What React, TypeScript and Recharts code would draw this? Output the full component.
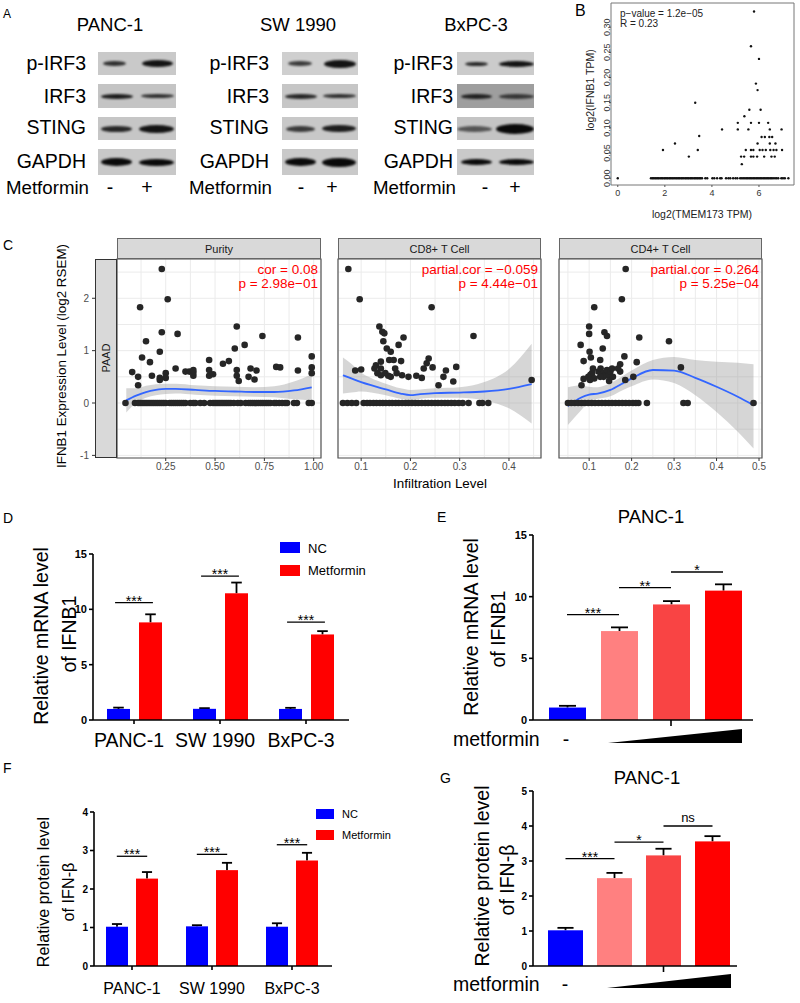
import React from 'react'
import {
  ComposedChart, ScatterChart, Scatter, Bar, Cell, Line, Area, XAxis, YAxis,
  CartesianGrid, ReferenceArea, ReferenceLine,
} from 'recharts'

// ---------- A: western blots ----------
const blotLines = ['PANC-1', 'SW 1990', 'BxPC-3']
const blotRows = ['p-IRF3', 'IRF3', 'STING', 'GAPDH']
// per cell line, per row: background grey, then [start, end, thickness, darkness] for lane - and lane +
const blotBands: [string, number[], number[]][][] = [
  [
    ['#c9c9c9', [0.06, 0.36, 5, 0.8], [0.56, 0.96, 7, 0.95]],
    ['#c4c4c4', [0.04, 0.45, 5, 0.9], [0.55, 0.97, 4, 0.8]],
    ['#c6c6c6', [0.04, 0.44, 6, 0.85], [0.52, 0.97, 8, 0.95]],
    ['#c8c8c8', [0.04, 0.44, 8, 1], [0.52, 0.97, 7, 1]],
  ],
  [
    ['#cfcfcf', [0.08, 0.4, 5, 0.75], [0.55, 0.97, 8, 0.95]],
    ['#c6c6c6', [0.04, 0.46, 5, 0.85], [0.54, 0.97, 4, 0.8]],
    ['#c8c8c8', [0.05, 0.43, 6, 0.75], [0.53, 0.97, 7, 0.9]],
    ['#c9c9c9', [0.04, 0.45, 8, 1], [0.52, 0.98, 9, 1]],
  ],
  [
    ['#cbcbcb', [0.1, 0.4, 4, 0.85], [0.55, 1.0, 6, 0.95]],
    ['#9e9e9e', [0.05, 0.45, 5, 0.85], [0.55, 1.0, 5, 0.7]],
    ['#c4c4c4', [0.0, 0.45, 6, 0.6], [0.5, 1.0, 10, 1]],
    ['#c9c9c9', [0.05, 0.45, 6, 1], [0.55, 1.0, 6, 1]],
  ],
]

// ---------- B: TMEM173 vs IFNB1 ----------
const bNonZero: [number, number][] = [
  [0, 0], [1.92, 0.056], [2.43, 0.069], [3.02, 0.043], [3.29, 0.15], [3.4, 0.056], [3.46, 0.084],
  [4.43, 0.097], [5.1, 0.11], [5.1, 0.097], [5.24, 0.043], [5.27, 0.028], [5.37, 0.043], [5.38, 0.123],
  [5.44, 0.056], [5.55, 0.097], [5.59, 0.136], [5.66, 0.056], [5.66, 0.043], [5.66, 0.11], [5.66, 0.262],
  [5.76, 0.043], [5.76, 0.056], [5.79, 0.331], [5.87, 0.188], [5.92, 0.043], [5.94, 0.175], [5.94, 0.069],
  [6.0, 0.11], [6.0, 0.237], [6.03, 0.056], [6.07, 0.136], [6.11, 0.082], [6.15, 0.056], [6.22, 0.043],
  [6.25, 0.082], [6.29, 0.056], [6.39, 0.11], [6.44, 0.082], [6.46, 0.069], [6.48, 0.056], [6.46, 0.097],
  [6.53, 0.043], [6.56, 0.082], [6.62, 0.056], [6.67, 0.043], [6.7, 0.069], [6.74, 0.056], [6.96, 0.097],
  [6.98, 0.056],
]
const bZeroX = [
  1.41, 1.47, 1.52, 1.58, 1.63, 1.69, 1.74, 1.8, 1.86, 1.91, 1.97, 2.02, 2.08, 2.13, 2.19, 2.24, 2.3,
  2.35, 2.41, 2.47, 2.52, 2.58, 2.63, 2.69, 2.74, 2.8, 2.86, 2.91, 2.97, 3.02, 3.08, 3.13, 3.19, 3.25,
  3.3, 3.36, 3.41, 3.47, 3.52, 3.58, 3.72, 3.8, 4.02, 4.1, 4.22, 4.35, 4.41, 4.6, 4.7, 4.78, 4.9, 5.0,
  5.08, 5.2, 5.27, 5.33, 5.4, 5.46, 5.52, 5.58, 5.64, 5.7, 5.76, 5.82, 5.88, 5.94, 6.0, 6.06, 6.12,
  6.18, 6.24, 6.3, 6.36, 6.42, 6.48, 6.54, 6.6, 6.68, 6.75, 6.82, 6.95, 7.02, 7.1, 7.25,
]
const bXTicks = [0, 2, 4, 6]
const bYTicks = [0, 0.05, 0.1, 0.15, 0.2, 0.25, 0.3]

// ---------- C: TIMER panels ----------
const cYTicks = [-1, -0.5, 0, 0.5, 1, 1.5, 2, 2.5]
const cYMajor = [-1, 0, 1, 2]

const purityPts: [number, number][] = [
  [0.23, 2.56], [0.26, 1.98], [0.12, 1.83], [0.31, 1.32], [0.23, 1.35], [0.15, 1.18], [0.13, 0.87],
  [0.22, 0.98], [0.17, 0.78], [0.08, 0.59], [0.11, 0.5], [0.11, 0.34], [0.18, 0.52], [0.22, 0.48],
  [0.22, 0.44], [0.25, 0.57], [0.25, 0.48], [0.3, 0.66], [0.35, 0.6], [0.37, 0.6], [0.39, 0.58],
  [0.39, 0.52], [0.39, 0.63], [0.47, 0.82], [0.47, 0.63], [0.47, 0.52], [0.49, 0.55], [0.54, 0.75],
  [0.57, 0.8], [0.6, 1.04], [0.61, 1.46], [0.61, 0.63], [0.61, 0.52], [0.62, 0.42], [0.65, 1.11],
  [0.67, 0.5], [0.68, 0.66], [0.7, 0.45], [0.71, 0.62], [0.74, 1.28], [0.81, 0.69], [0.83, 0.68],
  [0.92, 1.25], [0.92, 0.62], [0.99, 0.89], [0.99, 0.68], [0.99, 0.57],
]
const purityZeros = [
  0.046, 0.094, 0.11, 0.12, 0.13, 0.14, 0.15, 0.16, 0.17, 0.18, 0.19, 0.2, 0.21, 0.22, 0.23, 0.24, 0.25,
  0.27, 0.28, 0.29, 0.3, 0.31, 0.32, 0.33, 0.34, 0.35, 0.375, 0.39, 0.4, 0.425, 0.445, 0.475, 0.49, 0.5,
  0.51, 0.52, 0.53, 0.54, 0.55, 0.56, 0.57, 0.58, 0.595, 0.615, 0.63, 0.655, 0.67, 0.68, 0.69, 0.7,
  0.71, 0.72, 0.73, 0.74, 0.75, 0.76, 0.77, 0.78, 0.8, 0.81, 0.825, 0.84, 0.855, 0.865, 0.9, 0.915,
  0.975, 0.99,
]
const purityLoX = [0.05, 0.1, 0.15, 0.2, 0.25, 0.3, 0.4, 0.5, 0.6, 0.7, 0.8, 0.9, 0.99]
const purityFit = [0.05, 0.14, 0.21, 0.25, 0.27, 0.27, 0.25, 0.23, 0.22, 0.21, 0.21, 0.24, 0.3]
const purityLo = [-0.18, 0.0, 0.1, 0.15, 0.17, 0.18, 0.16, 0.14, 0.13, 0.12, 0.11, 0.07, 0.05]
const purityHi = [0.28, 0.28, 0.33, 0.36, 0.37, 0.37, 0.34, 0.32, 0.31, 0.3, 0.32, 0.41, 0.55]

const cd8Pts: [number, number][] = [
  [0.074, 2.56], [0.097, 1.98], [0.088, 0.62], [0.1, 0.64], [0.137, 1.46], [0.143, 1.36], [0.147, 1.33],
  [0.145, 1.18], [0.152, 1.04], [0.16, 0.98], [0.157, 0.82], [0.14, 0.79], [0.127, 0.66], [0.13, 0.72],
  [0.133, 0.57], [0.14, 0.53], [0.149, 0.57], [0.155, 0.52], [0.16, 0.5], [0.14, 0.66], [0.166, 0.82],
  [0.176, 1.11], [0.186, 1.25], [0.181, 0.8], [0.169, 0.66], [0.172, 0.57], [0.183, 0.53], [0.196, 0.5],
  [0.212, 0.52], [0.223, 0.48], [0.227, 0.66], [0.233, 0.76], [0.237, 0.85], [0.243, 1.83],
  [0.245, 0.68], [0.257, 0.34], [0.267, 0.5], [0.272, 0.62], [0.287, 0.41], [0.293, 0.69],
  [0.328, 1.28], [0.446, 0.44],
]
const cd8Zeros = [
  0.063, 0.072, 0.081, 0.09, 0.105, 0.112, 0.118, 0.125, 0.131, 0.138, 0.144, 0.15, 0.157, 0.163, 0.17,
  0.176, 0.183, 0.19, 0.196, 0.203, 0.21, 0.216, 0.223, 0.23, 0.236, 0.243, 0.25, 0.256, 0.263, 0.27,
  0.276, 0.283, 0.29, 0.298, 0.306, 0.318, 0.34, 0.346, 0.358,
]
const cd8LoX = [0.063, 0.08, 0.1, 0.12, 0.15, 0.18, 0.2, 0.22, 0.25, 0.3, 0.35, 0.4, 0.446]
const cd8Fit = [0.53, 0.47, 0.4, 0.34, 0.26, 0.18, 0.15, 0.17, 0.19, 0.2, 0.22, 0.27, 0.36]
const cd8Lo = [0.18, 0.2, 0.22, 0.2, 0.15, 0.08, 0.05, 0.08, 0.1, 0.1, 0.05, -0.1, -0.39]
const cd8Hi = [0.87, 0.75, 0.58, 0.48, 0.37, 0.28, 0.25, 0.26, 0.28, 0.3, 0.4, 0.65, 1.13]

const cd4Pts: [number, number][] = [
  [0.186, 2.56], [0.177, 1.98], [0.112, 1.83], [0.1, 1.46], [0.1, 1.32], [0.136, 1.35], [0.142, 1.28],
  [0.218, 1.25], [0.288, 1.18], [0.08, 1.11], [0.132, 1.04], [0.101, 0.98], [0.104, 0.87], [0.087, 0.8],
  [0.126, 0.82], [0.183, 0.89], [0.173, 0.74], [0.212, 0.78], [0.316, 0.68], [0.087, 0.46], [0.082, 0.34],
  [0.103, 0.54], [0.107, 0.57], [0.109, 0.66], [0.122, 0.6], [0.127, 0.66], [0.134, 0.57], [0.138, 0.53],
  [0.142, 0.63], [0.146, 0.52], [0.15, 0.6], [0.154, 0.66], [0.156, 0.5], [0.147, 0.42], [0.134, 0.5],
  [0.126, 0.5], [0.112, 0.47], [0.098, 0.5], [0.102, 0.44], [0.173, 0.6], [0.185, 0.44], [0.204, 0.5],
  [0.168, 0.66],
]
const cd4Zeros = [
  0.05, 0.058, 0.066, 0.074, 0.082, 0.09, 0.098, 0.106, 0.114, 0.122, 0.13, 0.138, 0.146, 0.154, 0.162,
  0.17, 0.178, 0.186, 0.194, 0.203, 0.21, 0.216, 0.236, 0.322, 0.332, 0.487,
]
const cd4LoX = [0.05, 0.08, 0.1, 0.12, 0.15, 0.18, 0.2, 0.25, 0.3, 0.35, 0.4, 0.45, 0.487]
const cd4Fit = [-0.06, 0.1, 0.16, 0.18, 0.25, 0.38, 0.47, 0.63, 0.62, 0.48, 0.31, 0.12, -0.04]
const cd4Lo = [-0.42, -0.15, 0.03, 0.08, 0.13, 0.25, 0.32, 0.45, 0.38, 0.15, -0.17, -0.55, -0.87]
const cd4Hi = [0.3, 0.34, 0.31, 0.3, 0.38, 0.52, 0.62, 0.82, 0.88, 0.82, 0.79, 0.77, 0.74]

// ---------- D / F: cell lines ----------
const cellLines = ['PANC-1', 'SW 1990', 'BxPC-3']
const dNC = [1.0, 1.01, 1.0]
const dNCErr = [0.12, 0.06, 0.1]
const dMet = [8.82, 11.45, 7.73]
const dMetErr = [0.73, 0.97, 0.3]
const dSig = [10.6, 13.0, 8.85]

const fNC = [1.02, 1.03, 1.02]
const fNCErr = [0.07, 0.03, 0.09]
const fMet = [2.27, 2.49, 2.74]
const fMetErr = [0.17, 0.19, 0.2]
const fSig = [2.85, 2.9, 3.15]

// ---------- E / G: metformin dose ----------
const doses = ['0', '1', '2', '3']
const eMean = [1.01, 7.21, 9.37, 10.49]
const eErr = [0.14, 0.3, 0.27, 0.51]
const eSig = [{ a: '0', b: '1', y: 8.55, t: '***' }, { a: '1', b: '2', y: 10.74, t: '**' }, { a: '2', b: '3', y: 12.0, t: '*' }]
const gMean = [1.02, 2.51, 3.16, 3.56]
const gErr = [0.07, 0.15, 0.19, 0.15]
const gSig = [{ a: '0', b: '1', y: 3.07, t: '***' }, { a: '1', b: '2', y: 3.54, t: '*' }, { a: '2', b: '3', y: 4.0, t: 'ns' }]
const doseColors = ['#0000ff', '#ff8080', '#f94444', '#ff0000']

const FONT = '"Liberation Sans", Arial, Helvetica, sans-serif'
const ax = { stroke: '#000', strokeWidth: 1.6 }

function T({ x, y, size, children, anchor = 'start', weight = 400, color = '#000' }: any) {
  const tx = anchor === 'middle' ? '-50%' : anchor === 'end' ? '-100%' : '0'
  return (
    <div style={{ position: 'absolute', left: x, top: y, transform: `translate(${tx}, -50%)`, fontSize: size, lineHeight: 1, whiteSpace: 'nowrap', fontWeight: weight, color }}>
      {children}
    </div>
  )
}

function RT({ x, y, size, children, color = '#000' }: any) {
  return (
    <div style={{ position: 'absolute', left: x, top: y, transform: 'translate(-50%, -50%) rotate(-90deg)', fontSize: size, lineHeight: 1, whiteSpace: 'nowrap', color }}>
      {children}
    </div>
  )
}

function Blots() {
  const cols = [
    { tx: 110, lx: 86, bx: 98, bw: 78, m: 110, p: 147 },
    { tx: 298, lx: 269, bx: 282, bw: 76, m: 301, p: 332 },
    { tx: 476, lx: 453, bx: 457, bw: 77, m: 485, p: 515 },
  ]
  const rows = [{ t: 52, h: 23, c: 64 }, { t: 84, h: 24, c: 97 }, { t: 117, h: 23, c: 128 }, { t: 149, h: 26, c: 162 }]
  return (
    <>
      <T x={3} y={14} size={12}>A</T>
      {cols.map((c, ci) => (
        <React.Fragment key={ci}>
          <T x={c.tx} y={25} size={18.5} anchor="middle">{blotLines[ci]}</T>
          {rows.map((r, ri) => {
            const [bg, l, rr] = blotBands[ci][ri]
            return (
              <React.Fragment key={ri}>
                <T x={c.lx} y={r.c} size={19.5} anchor="end">{blotRows[ri]}</T>
                <div style={{ position: 'absolute', left: c.bx, top: r.t, width: c.bw, height: r.h, background: bg, overflow: 'hidden' }}>
                  {[l, rr].map((b, bi) => (
                    <div key={bi} style={{
                      position: 'absolute', left: b[0] * c.bw, width: (b[1] - b[0]) * c.bw,
                      top: r.h / 2 - b[2] / 2, height: b[2], borderRadius: '50%',
                      background: `rgba(10,10,10,${b[3]})`, filter: 'blur(1.2px)',
                    }} />
                  ))}
                </div>
              </React.Fragment>
            )
          })}
          <T x={c.lx + 3} y={188} size={18.7} anchor="end">Metformin</T>
          <T x={c.m} y={188} size={19.5} anchor="middle">-</T>
          <T x={c.p} y={188} size={19.5} anchor="middle">+</T>
        </React.Fragment>
      ))}
    </>
  )
}

const tinyDot = (p: any) => <circle cx={p.cx} cy={p.cy} r={1.2} fill="#111" />
const BYTick = (p: any) => (
  <text x={p.x + 1} y={p.y} transform={`rotate(-90, ${p.x + 1}, ${p.y})`} textAnchor="middle" fontSize={9} fill="#333">
    {Number(p.payload.value).toFixed(2)}
  </text>
)

function PanelB() {
  const data = [...bNonZero.map(([x, y]) => ({ x, y })), ...bZeroX.map((x) => ({ x, y: 0 }))]
  return (
    <>
      <T x={575} y={11} size={16}>B</T>
      <div style={{ position: 'absolute', left: 575, top: 0 }}>
        <ScatterChart width={225} height={200} margin={{ top: 3, right: 6, bottom: 3, left: 24 }}>
          <XAxis dataKey="x" type="number" domain={[-0.288, 7.488]} ticks={bXTicks} allowDataOverflow interval={0}
            height={12} tickSize={2} tickMargin={3} axisLine={false} tickLine={{ stroke: '#555' }} tick={{ fontSize: 9, fill: '#333' }} />
          <YAxis dataKey="y" type="number" domain={[-0.0134, 0.348]} ticks={bYTicks} allowDataOverflow interval={0}
            width={12} tickSize={2} tickMargin={0} axisLine={false} tickLine={{ stroke: '#555' }} tick={<BYTick />} />
          <ReferenceArea x1={-0.288} x2={7.488} y1={-0.0134} y2={0.348} fill="none" stroke="#777" strokeWidth={1} ifOverflow="visible" />
          <Scatter data={data} shape={tinyDot} isAnimationActive={false} />
        </ScatterChart>
      </div>
      <T x={620} y={14} size={10} color="#222">p−value = 1.2e−05</T>
      <T x={620} y={24} size={10} color="#222">R = 0.23</T>
      <RT x={590} y={90} size={10.5} color="#222">log2(IFNB1 TPM)</RT>
      <T x={702} y={214} size={10.5} anchor="middle" color="#222">log2(TMEM173 TPM)</T>
    </>
  )
}

const bigDot = (p: any) => <circle cx={p.cx} cy={p.cy} r={3.3} fill="#262626" />

function CXTick(p: any) {
  const v = p.payload.value
  if (!p.majors.includes(v)) return <g />
  return (
    <g>
      <line x1={p.x} x2={p.x} y1={p.y - 5} y2={p.y - 2} stroke="#333" strokeWidth={1} />
      <text x={p.x} y={p.y} dy="0.71em" textAnchor="middle" fontSize={10} fill="#4d4d4d">{p.fmt(v)}</text>
    </g>
  )
}

function CYTick(p: any) {
  const v = p.payload.value
  if (!cYMajor.includes(v)) return <g />
  return (
    <g>
      <line x1={p.x - 25} x2={p.x - 22} y1={p.y} y2={p.y} stroke="#333" strokeWidth={1} />
      <text x={p.x - 28} y={p.y} dy="0.36em" textAnchor="end" fontSize={10} fill="#4d4d4d">{v}</text>
    </g>
  )
}

function CPanel(props: any) {
  const { plotLeft, plotW, showY, xDomain, xMajor, xMinor, fmt, pts, zeros, loX, fit, lo, hi, title, stat } = props
  const data = loX.map((x: number, i: number) => ({ x, fit: fit[i], band: [lo[i], hi[i]] }))
  const scat = [...pts.map(([x, y]: number[]) => ({ x, y })), ...zeros.map((x: number) => ({ x, y: 0 }))]
  const ticks = [...xMajor, ...xMinor].sort((a: number, b: number) => a - b)
  const yW = showY ? 57 : 0
  const mL = showY ? 0 : 4
  return (
    <>
      <div style={{ position: 'absolute', left: plotLeft - yW - mL, top: 257 }}>
        <ComposedChart width={mL + yW + plotW + 4} height={223} data={data} margin={{ top: 2, right: 4, bottom: 2, left: mL }}>
          <CartesianGrid stroke="#ebebeb" strokeWidth={1} />
          <XAxis dataKey="x" type="number" domain={xDomain} ticks={ticks} allowDataOverflow interval={0} height={20}
            tickSize={3} tickMargin={2} tickLine={false} axisLine={false} tick={<CXTick majors={xMajor} fmt={fmt} />} />
          <YAxis type="number" domain={[-1.05, 2.75]} ticks={cYTicks} allowDataOverflow interval={0} width={yW} hide={!showY}
            tickSize={0} tickMargin={0} tickLine={false} axisLine={false} tick={<CYTick />} />
          <Scatter data={scat} dataKey="y" shape={bigDot} isAnimationActive={false} />
          <Area dataKey="band" type="monotone" fill="#999999" fillOpacity={0.4} stroke="none" isAnimationActive={false} />
          <Line dataKey="fit" type="monotone" stroke="#3366ff" strokeWidth={1.8} dot={false} isAnimationActive={false} />
          <ReferenceArea x1={xDomain[0]} x2={xDomain[1]} y1={-1.05} y2={2.75} fill="none" stroke="#555" strokeWidth={1.2} ifOverflow="visible" />
        </ComposedChart>
      </div>
      <div style={{ position: 'absolute', left: plotLeft, top: 238, width: plotW, height: 21, boxSizing: 'border-box', background: '#d9d9d9', border: '1px solid #666', display: 'flex', alignItems: 'center', justifyContent: 'center', fontSize: 11, color: '#1a1a1a' }}>
        {title}
      </div>
      <T x={plotLeft + plotW - 3} y={270} size={13.5} anchor="end" color="#ff0000">{stat[0]}</T>
      <T x={plotLeft + plotW - 3} y={284} size={13.5} anchor="end" color="#ff0000">{stat[1]}</T>
    </>
  )
}

function PanelC() {
  return (
    <>
      <T x={3} y={245} size={14}>C</T>
      <CPanel plotLeft={117} plotW={204} showY xDomain={[0.003, 1.037]} xMajor={[0.25, 0.5, 0.75, 1]} xMinor={[0.125, 0.375, 0.625, 0.875]}
        fmt={(v: number) => v.toFixed(2)} pts={purityPts} zeros={purityZeros} loX={purityLoX} fit={purityFit} lo={purityLo} hi={purityHi}
        title="Purity" stat={['cor = 0.08', 'p = 2.98e−01']} />
      <CPanel plotLeft={338} plotW={203} xDomain={[0.053, 0.465]} xMajor={[0.1, 0.2, 0.3, 0.4]} xMinor={[0.15, 0.25, 0.35, 0.45]}
        fmt={(v: number) => v.toFixed(1)} pts={cd8Pts} zeros={cd8Zeros} loX={cd8LoX} fit={cd8Fit} lo={cd8Lo} hi={cd8Hi}
        title="CD8+ T Cell" stat={['partial.cor = −0.059', 'p = 4.44e−01']} />
      <CPanel plotLeft={559} plotW={203} xDomain={[0.029, 0.507]} xMajor={[0.1, 0.2, 0.3, 0.4, 0.5]} xMinor={[0.05, 0.15, 0.25, 0.35, 0.45]}
        fmt={(v: number) => v.toFixed(1)} pts={cd4Pts} zeros={cd4Zeros} loX={cd4LoX} fit={cd4Fit} lo={cd4Lo} hi={cd4Hi}
        title="CD4+ T Cell" stat={['partial.cor = 0.264', 'p = 5.25e−04']} />
      <div style={{ position: 'absolute', left: 95, top: 259, width: 22, height: 199, boxSizing: 'border-box', background: '#d9d9d9', border: '1.5px solid #333' }} />
      <RT x={106} y={358} size={11} color="#1a1a1a">PAAD</RT>
      <RT x={62} y={356} size={13.4}>IFNB1 Expression Level (log2 RSEM)</RT>
      <T x={440} y={484} size={13.4} anchor="middle">Infiltration Level</T>
    </>
  )
}

function errShape(valKey: string, errKey: string, capRatio = 0.46) {
  return (p: any) => {
    const { x, y, width, height, fill, payload } = p
    const v = payload[valKey]
    const k = v ? height / v : 0
    const top = y - payload[errKey] * k
    const cx = x + width / 2
    const cap = width * capRatio
    return (
      <g>
        <line x1={cx} x2={cx} y1={y} y2={top} stroke="#000" strokeWidth={1.8} />
        <line x1={cx - cap / 2} x2={cx + cap / 2} y1={top} y2={top} stroke="#000" strokeWidth={1.8} />
        <rect x={x} y={y} width={width} height={height} fill={fill} />
      </g>
    )
  }
}

function GroupBars(props: any) {
  const { left, top, plotW, plotH, mTop, yMax, yTicks, nc, ncErr, met, metErr, sig, span, barSize, barGap, tickFont, tickMargin, xH, labelFont, labelDx } = props
  const rows = cellLines.map((c, i) => ({ line: c, nc: nc[i], ncErr: ncErr[i], met: met[i], metErr: metErr[i] }))
  // half-width of a significance bracket, as a share of one category band
  const half = (span * (plotW + 2)) / cellLines.length
  return (
    <div style={{ position: 'absolute', left, top }}>
      <ComposedChart width={14 + 40 + plotW + 8} height={mTop + plotH + xH + 2} data={rows} margin={{ top: mTop, left: 14, right: 8, bottom: 2 }} barGap={barGap}>
        <XAxis dataKey="line" padding={{ left: -2, right: 0 }} height={xH} tickSize={4} tickMargin={tickMargin} interval={0}
          axisLine={ax} tickLine={ax} tick={{ fontSize: labelFont, fill: '#000', dx: labelDx }} />
        <YAxis domain={[0, yMax]} ticks={yTicks} allowDataOverflow interval={0} width={40} tickSize={4} tickMargin={2}
          axisLine={ax} tickLine={ax} tick={{ fontSize: tickFont, fontWeight: 700, fill: '#000' }} />
        <Bar dataKey="nc" fill="#0000ff" barSize={barSize} shape={errShape('nc', 'ncErr')} isAnimationActive={false} />
        <Bar dataKey="met" fill="#ff0000" barSize={barSize} shape={errShape('met', 'metErr')} isAnimationActive={false} />
        {sig.map((s: number, i: number) => (
          <ReferenceLine key={i} segment={[{ x: cellLines[i], y: s }, { x: cellLines[i], y: s }]} ifOverflow="visible"
            shape={(p: any) => <line x1={p.x1 - half} x2={p.x1 + half} y1={p.y1} y2={p.y1} stroke="#000" strokeWidth={1.3} />}
            label={{ value: '***', position: 'top', offset: -3, fill: '#000', fontSize: 14 }} />
        ))}
      </ComposedChart>
    </div>
  )
}

function DoseBars(props: any) {
  const { left, top, plotW, plotH, mTop, yMax, yTicks, mean, err, sig, barSize, padL, padR, tickFont } = props
  const rows = doses.map((d, i) => ({ dose: d, v: mean[i], e: err[i] }))
  return (
    <div style={{ position: 'absolute', left, top }}>
      <ComposedChart width={23 + 40 + plotW + 10} height={mTop + plotH + 10 + 2} data={rows} margin={{ top: mTop, left: 23, right: 10, bottom: 2 }}>
        <XAxis dataKey="dose" padding={{ left: padL, right: padR }} height={10} tickSize={0} tickMargin={0} interval={0}
          axisLine={ax} tickLine={false}
          tick={(p: any) => (p.index === 2 ? <line x1={p.x} x2={p.x} y1={p.y} y2={p.y + 6} stroke="#000" strokeWidth={1.6} /> : <g />)} />
        <YAxis domain={[0, yMax]} ticks={yTicks} allowDataOverflow interval={0} width={40} tickSize={4} tickMargin={2}
          axisLine={ax} tickLine={ax} tick={{ fontSize: tickFont, fontWeight: 700, fill: '#000' }} />
        <Bar dataKey="v" barSize={barSize} shape={errShape('v', 'e')} isAnimationActive={false}>
          {rows.map((_, i) => <Cell key={i} fill={doseColors[i]} />)}
        </Bar>
        {sig.map((s: any, i: number) => (
          <ReferenceLine key={i} segment={[{ x: s.a, y: s.y }, { x: s.b, y: s.y }]} stroke="#000" strokeWidth={1.3} ifOverflow="visible"
            label={{ value: s.t, position: 'top', offset: s.t.includes('*') ? -3 : 4, fill: '#000', fontSize: s.t.includes('*') ? 14 : 13 }} />
        ))}
      </ComposedChart>
    </div>
  )
}

function Wedge({ x0, x1, yb, yt }: any) {
  return (
    <svg style={{ position: 'absolute', left: 0, top: 0, overflow: 'visible' }} width={1} height={1}>
      <polygon points={`${x0},${yb} ${x1},${yb} ${x1},${yt}`} fill="#000" />
    </svg>
  )
}

export default function App() {
  return (
    <div style={{ position: 'relative', width: 800, height: 1003, background: '#fff', fontFamily: FONT, overflow: 'hidden' }}>
      <style>{'body{margin:0}'}</style>
      <Blots />
      <PanelB />
      <PanelC />

      {/* D */}
      <T x={3} y={518} size={14}>D</T>
      <GroupBars left={39} top={540} plotW={256} plotH={166} mTop={14} yMax={15} yTicks={[0, 5, 10, 15]}
        nc={dNC} ncErr={dNCErr} met={dMet} metErr={dMetErr} sig={dSig} span={0.22} barSize={23} barGap={9}
        tickFont={11} tickMargin={9} xH={36} labelFont={19.5} labelDx={-5} />
      <div style={{ position: 'absolute', left: 280, top: 542, width: 20, height: 11, background: '#0000ff' }} />
      <div style={{ position: 'absolute', left: 280, top: 565, width: 20, height: 11, background: '#ff0000' }} />
      <T x={308} y={548} size={13}>NC</T>
      <T x={308} y={570} size={13}>Metformin</T>
      <RT x={42} y={636} size={19.5}>Relative mRNA level</RT>
      <RT x={70} y={634} size={19.5}>of IFNB1</RT>

      {/* E */}
      <T x={437} y={517} size={14}>E</T>
      <T x={651} y={517} size={18.5} anchor="middle">PANC-1</T>
      <DoseBars left={470} top={525} plotW={220} plotH={185} mTop={10} yMax={15} yTicks={[0, 5, 10, 15]}
        mean={eMean} err={eErr} sig={eSig} barSize={37} padL={8} padR={4} tickFont={11} />
      <RT x={472} y={627} size={19.5}>Relative mRNA level</RT>
      <RT x={499} y={629} size={19.5}>of IFNB1</RT>
      <T x={453} y={740} size={19.5}>metformin</T>
      <T x={566} y={740} size={19.5} anchor="middle">-</T>
      <Wedge x0={608} x1={742} yb={743} yt={729} />

      {/* F */}
      <T x={3} y={768} size={14}>F</T>
      <GroupBars left={40} top={800} plotW={238} plotH={154} mTop={12} yMax={4} yTicks={[0, 1, 2, 3, 4]}
        nc={fNC} ncErr={fNCErr} met={fMet} metErr={fMetErr} sig={fSig} span={0.19} barSize={22} barGap={8}
        tickFont={10} tickMargin={13} xH={33} labelFont={16} labelDx={0} />
      <div style={{ position: 'absolute', left: 316, top: 809, width: 18, height: 10, background: '#0000ff' }} />
      <div style={{ position: 'absolute', left: 316, top: 830, width: 18, height: 10, background: '#ff0000' }} />
      <T x={342} y={814} size={11}>NC</T>
      <T x={342} y={835} size={11}>Metformin</T>
      <RT x={43} y={892} size={16.2}>Relative protein level</RT>
      <RT x={68} y={892} size={16.2}>of IFN-β</RT>

      {/* G */}
      <T x={440} y={778} size={14}>G</T>
      <T x={647} y={778} size={18.5} anchor="middle">PANC-1</T>
      <DoseBars left={470} top={780} plotW={204} plotH={175} mTop={11} yMax={5} yTicks={[0, 1, 2, 3, 4, 5]}
        mean={gMean} err={gErr} sig={gSig} barSize={35} padL={8} padR={0} tickFont={10} />
      <RT x={483} y={876} size={19.5}>Relative protein level</RT>
      <RT x={508} y={880} size={19.5}>of IFN-β</RT>
      <T x={453} y={985} size={19.5}>metformin</T>
      <T x={565} y={985} size={19.5} anchor="middle">-</T>
      <Wedge x0={607} x1={731} yb={988} yt={974} />
    </div>
  )
}
